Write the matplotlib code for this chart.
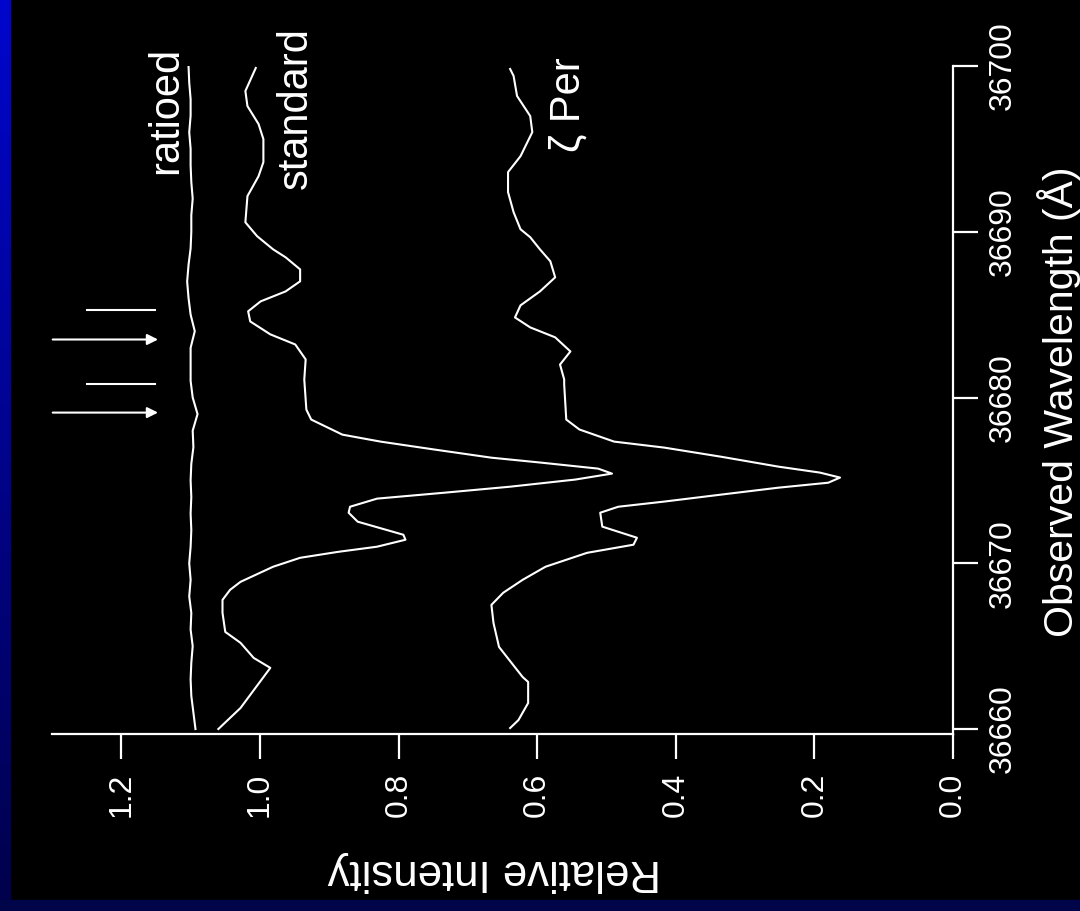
import matplotlib
matplotlib.use("Agg")
import matplotlib.pyplot as plt
from matplotlib.patches import Rectangle

plt.rcParams['font.family'] = ['Liberation Sans', 'DejaVu Sans']

# ---------------- data (wavelength in Å, relative intensity) ----------------
ratioed_wl = [36660, 36661, 36662, 36663, 36664, 36665, 36666, 36667, 36668, 36669,
              36670, 36671, 36672, 36673, 36674, 36675, 36676, 36677, 36678, 36679,
              36680, 36681, 36682, 36683, 36684, 36685, 36686, 36687, 36688, 36689,
              36690, 36691, 36692, 36693, 36694, 36695, 36696, 36697, 36698, 36699, 36700]
ratioed_int = [1.093, 1.096, 1.099, 1.100, 1.099, 1.097, 1.100, 1.099, 1.102, 1.100,
               1.102, 1.100, 1.099, 1.100, 1.099, 1.100, 1.099, 1.096, 1.097, 1.090,
               1.097, 1.100, 1.100, 1.100, 1.094, 1.100, 1.103, 1.105, 1.103, 1.100,
               1.099, 1.099, 1.097, 1.099, 1.100, 1.100, 1.102, 1.100, 1.100, 1.102, 1.103]

standard_wl = [36660.00, 36661.27, 36663.69, 36664.29, 36665.20, 36665.86, 36667.01,
               36667.79, 36668.40, 36668.88, 36669.79, 36670.33, 36670.69, 36671.00,
               36671.42, 36671.72, 36672.51, 36673.05, 36673.41, 36673.90, 36674.26,
               36674.62, 36675.05, 36675.41, 36675.71, 36676.07, 36676.37, 36676.86,
               36677.34, 36677.76, 36678.67, 36679.27, 36681.09, 36682.30, 36683.20,
               36683.81, 36684.59, 36685.20, 36685.80, 36686.40, 36687.01, 36687.73,
               36688.46, 36688.94, 36689.73, 36690.57, 36692.15, 36693.35, 36694.20,
               36695.59, 36696.50, 36697.58, 36698.49, 36699.88]
standard_int = [1.060, 1.028, 0.985, 1.009, 1.028, 1.050, 1.054,
                1.054, 1.043, 1.028, 0.981, 0.942, 0.887, 0.831,
                0.790, 0.793, 0.859, 0.872, 0.870, 0.831, 0.733,
                0.639, 0.545, 0.492, 0.512, 0.594, 0.666, 0.748,
                0.826, 0.881, 0.926, 0.933, 0.936, 0.934, 0.949,
                0.985, 1.014, 1.017, 0.999, 0.963, 0.942, 0.942,
                0.963, 0.981, 1.004, 1.021, 1.018, 1.002, 0.995,
                0.995, 1.002, 1.018, 1.021, 1.006]

zper_wl = [36660.06, 36660.54, 36661.57, 36662.84, 36663.14, 36664.95, 36666.40,
           36667.49, 36668.22, 36669.00, 36669.79, 36670.63, 36671.12, 36671.54,
           36672.21, 36673.05, 36673.41, 36673.72, 36674.14, 36674.56, 36674.86,
           36675.17, 36675.47, 36675.83, 36676.43, 36676.98, 36677.34, 36678.07,
           36678.67, 36680.79, 36681.09, 36681.99, 36682.78, 36683.63, 36684.23,
           36684.83, 36685.56, 36686.40, 36687.25, 36688.22, 36688.94, 36689.67,
           36690.15, 36691.18, 36692.39, 36693.60, 36694.56, 36696.01, 36696.98,
           36698.19, 36699.40, 36699.82]
zper_int = [0.639, 0.627, 0.613, 0.613, 0.621, 0.655, 0.663,
            0.666, 0.649, 0.621, 0.588, 0.528, 0.461, 0.456,
            0.506, 0.509, 0.483, 0.417, 0.335, 0.252, 0.180,
            0.163, 0.192, 0.252, 0.335, 0.417, 0.489, 0.539,
            0.558, 0.561, 0.561, 0.567, 0.552, 0.574, 0.610,
            0.632, 0.624, 0.596, 0.574, 0.581, 0.596, 0.610,
            0.624, 0.634, 0.642, 0.642, 0.624, 0.607, 0.610,
            0.629, 0.634, 0.639]

marker_line_wl = [36685.26, 36680.79]     # plain marker lines
marker_arrow_wl = [36683.50, 36679.09]    # arrow markers

intensity_ticks = [0.0, 0.2, 0.4, 0.6, 0.8, 1.0, 1.2]
intensity_ticklabels = ["0.0", "0.2", "0.4", "0.6", "0.8", "1.0", "1.2"]
wavelength_ticks = [36660, 36670, 36680, 36690, 36700]
wavelength_ticklabels = ["36660", "36670", "36680", "36690", "36700"]

curve_labels = ["ratioed", "standard", "\u03b6 Per"]

# ---------------- figure ----------------
W, H = 1080, 911
fig = plt.figure(figsize=(W / 100, H / 100), dpi=100, facecolor="black")

def fx(px):
    return px / W

def fy(py):
    return 1 - py / H

# blue frame (left gradient strip and bottom strip)
n = 80
for i in range(n):
    t = i / (n - 1)
    top = 0 + i * 900 / n
    col = (0.0, 0.0 + 0.02 * (1 - t), 0.80 * (1 - t) + 0.30 * t)
    fig.patches.append(Rectangle((0, fy(top + 900 / n)), fx(10), 900 / n / H + 0.0005,
                                 transform=fig.transFigure, color=col, zorder=0))
fig.patches.append(Rectangle((0, 0), 1, 11 / H, transform=fig.transFigure,
                             color=(0.0, 0.02, 0.29), zorder=0))

ax = fig.add_axes([fx(52), fy(734), fx(953 - 52), (734 - 66) / H])
ax.set_facecolor("none")
ax.set_xlim(1.3, 0.0)
ax.set_ylim(36659.7, 36700)

lw = 1.5
ax.plot(ratioed_int, ratioed_wl, color="white", lw=lw)
ax.plot(standard_int, standard_wl, color="white", lw=lw)
ax.plot(zper_int, zper_wl, color="white", lw=lw)

for wl in marker_line_wl:
    ax.plot([1.250, 1.152], [wl, wl], color="white", lw=lw)
for wl in marker_arrow_wl:
    ax.annotate("", xy=(1.147, wl), xytext=(1.299, wl),
                arrowprops=dict(arrowstyle="-|>", color="white", lw=lw,
                                mutation_scale=16, shrinkA=0, shrinkB=0))

for s in ["left", "top"]:
    ax.spines[s].set_visible(False)
for s in ["bottom", "right"]:
    ax.spines[s].set_color("white")
    ax.spines[s].set_linewidth(1.6)

ax.yaxis.tick_right()
ax.set_xticks(intensity_ticks)
ax.set_xticklabels(intensity_ticklabels)
ax.set_yticks(wavelength_ticks)
ax.set_yticklabels(wavelength_ticklabels)
ax.tick_params(axis="both", colors="white", length=18, width=1.6, direction="out",
               labelsize=23)
ax.tick_params(axis="x", labelrotation=90, pad=10)
ax.tick_params(axis="y", labelrotation=90, pad=7)
for lab in ax.get_yticklabels():
    lab.set_va("center")
    lab.set_ha("left")

# curve labels
ax_text_kw = dict(color="white", fontsize=30, rotation=90, rotation_mode="anchor",
                  ha="center", va="baseline")
fig.text(fx(177), fy(110), curve_labels[0], **ax_text_kw)
fig.text(fx(307), fy(108), curve_labels[1], **ax_text_kw)
fig.text(fx(580), fy(105), curve_labels[2], **ax_text_kw)

# axis titles
fig.text(fx(1073), fy(402), "Observed Wavelength (\u00c5)", color="white", fontsize=29.5,
         rotation=90, rotation_mode="anchor", ha="center", va="baseline")
fig.text(fx(494), fy(860), "Relative Intensity", color="white", fontsize=31.5,
         rotation=180, rotation_mode="anchor", ha="center", va="baseline")

fig.savefig("out.png", dpi=100, facecolor="black")
